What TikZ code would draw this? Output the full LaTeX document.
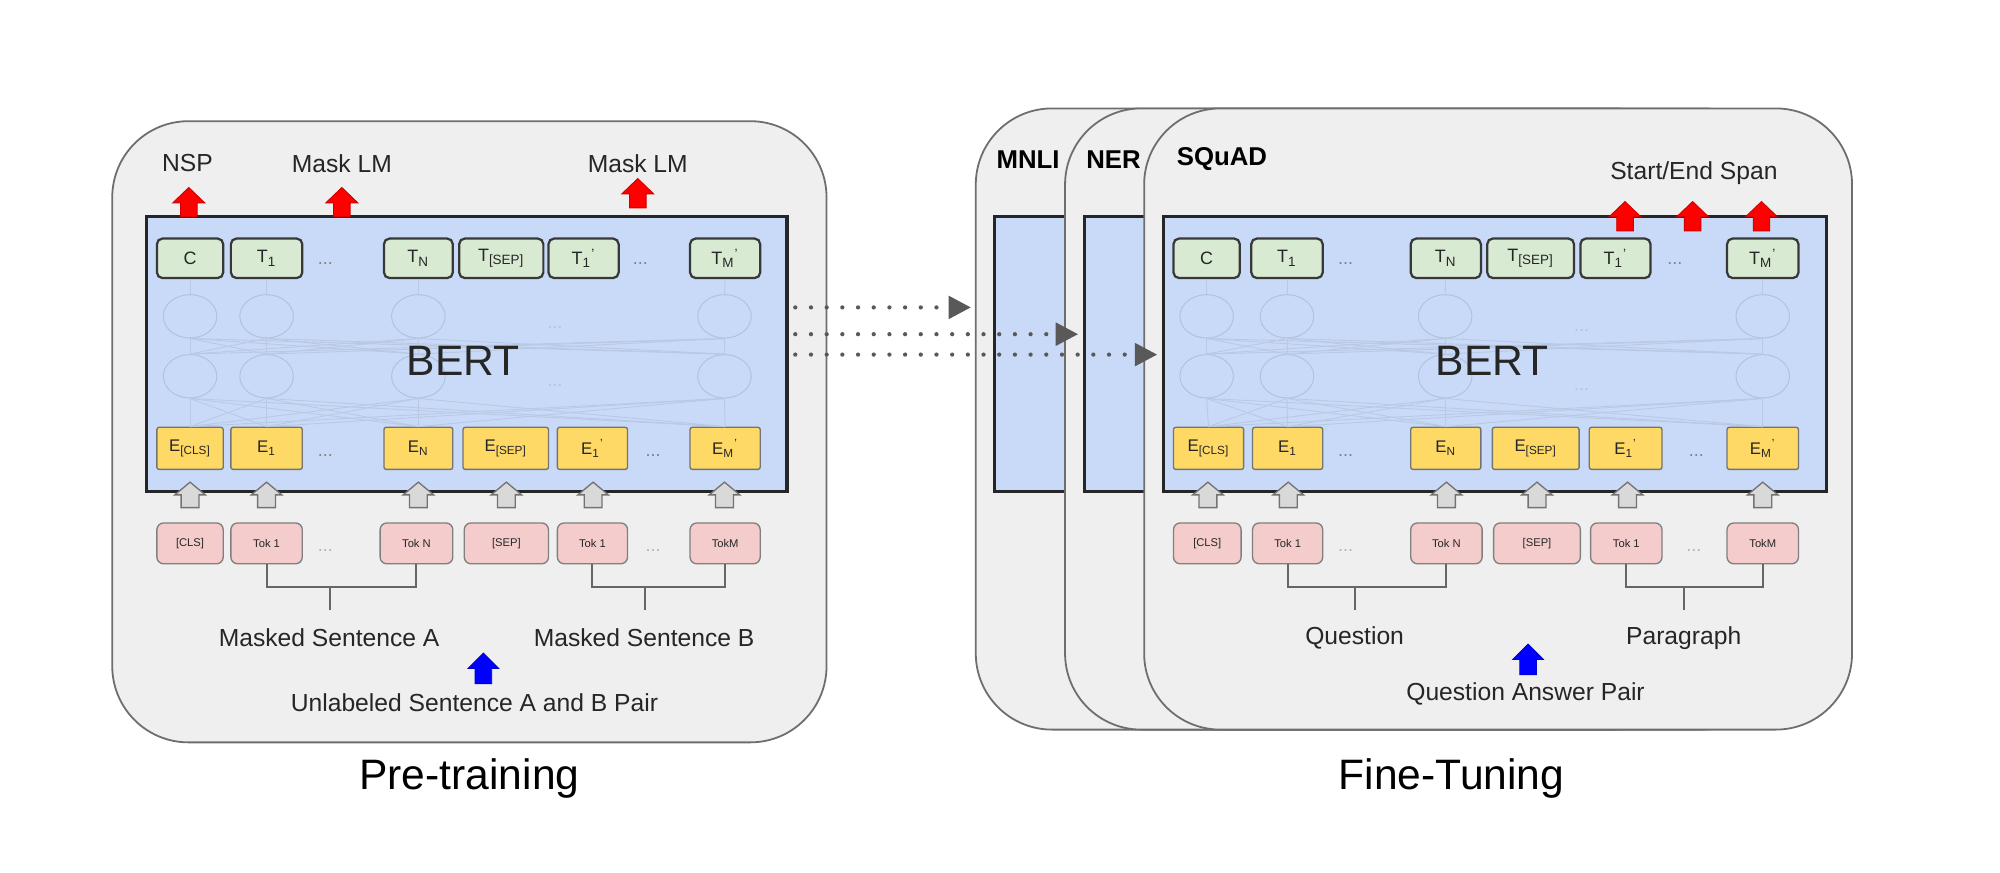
\documentclass[tikz,border=0pt]{standalone}
\usepackage{fontspec}
\setmainfont{Liberation Sans}
\usetikzlibrary{shapes.geometric,arrows.meta}
\definecolor{panelfill}{HTML}{EFEFEF}
\definecolor{panelline}{HTML}{6E6E6E}
\definecolor{bertblue}{HTML}{C9DAF8}
\definecolor{gfill}{HTML}{D9EAD3}
\definecolor{yfill}{HTML}{FFD966}
\definecolor{pfill}{HTML}{F4CCCC}
\definecolor{faint}{HTML}{B2C2DC}
\definecolor{fainter}{HTML}{B9C9E4}
\definecolor{txt}{HTML}{262626}
\definecolor{garr}{HTML}{D9D9D9}
\newcommand\tsb[3]{#1\textsubscript{#2}\textsuperscript{#3}}
\tikzset{
  panel/.style={draw=panelline, fill=panelfill, line width=0.8pt, rounded corners=34pt},
  bertbox/.style={draw=black!85, fill=bertblue, line width=1.4pt},
  gbox/.style={draw=black!78, fill=gfill, line width=1pt, rounded corners=2.5pt, minimum height=0.62cm, inner sep=0pt, font=\fontsize{8}{9}\selectfont, text=txt},
  ybox/.style={draw=black!55, fill=yfill, line width=0.6pt, rounded corners=1pt, minimum height=0.66cm, inner sep=0pt, font=\fontsize{7.5}{9}\selectfont, text=txt},
  pbox/.style={draw=black!50, fill=pfill, line width=0.6pt, rounded corners=3pt, minimum height=0.64cm, inner sep=0pt, font=\fontsize{5}{6}\selectfont, text=txt},
  hid/.style={draw=faint, ellipse, minimum width=0.84cm, minimum height=0.68cm, inner sep=0pt, line width=0.45pt},
  faintline/.style={draw=fainter, line width=0.4pt},
  fdots/.style={font=\fontsize{8}{9}\selectfont, text=faint, inner sep=0pt},
  lbl/.style={font=\fontsize{11}{13}\selectfont, text=txt, inner sep=1pt},
  ttl/.style={font=\fontsize{19}{22}\selectfont, text=black, inner sep=1pt},
  bert/.style={font=\fontsize{19}{22}\selectfont, text=black!85, inner sep=1pt},
  task/.style={font=\bfseries\fontsize{11.5}{14}\selectfont, text=black, inner sep=1pt},
  dotsym/.style={font=\fontsize{8}{9}\selectfont, text=black!50, inner sep=0pt},
  bracket/.style={draw=black!60, line width=0.9pt},
  dotarrow/.style={draw=black!65, line width=1.9pt, dash pattern=on 0pt off 7pt, line cap=round, shorten <=3pt, shorten >=2pt, -{Triangle[length=10pt,width=10pt]}},
  pics/redarr/.style={code={\path[fill=red, draw=red!80!black, line width=0.4pt] (-6.5,0) -- (-6.5,-11) -- (-12.5,-11) -- (0,-23) -- (12.5,-11) -- (6.5,-11) -- (6.5,0) -- cycle;}},
  pics/bluearr/.style={code={\path[fill=blue, draw=blue!80!black, line width=0.4pt] (-6.5,0) -- (-6.5,-12) -- (-12,-12) -- (0,-24) -- (12,-12) -- (6.5,-12) -- (6.5,0) -- cycle;}},
  pics/greyarr/.style={code={\path[fill=garr, draw=black!55, line width=0.6pt] (-7,0) -- (-7,-10) -- (-12,-10) -- (0,-20) -- (12,-10) -- (7,-10) -- (7,0) -- cycle;}},
}
\begin{document}
\begin{tikzpicture}[x=0.02cm,y=-0.02cm]
\useasboundingbox[fill=white] (0,0) rectangle (1568,684);

% ================= Pre-training =================
\node[panel, minimum width=560*0.02cm, minimum height=487*0.02cm] (L-panel) at (368,338.5) {};
\node[bertbox, minimum width=502*0.02cm, minimum height=215*0.02cm] (L-bert) at (366,277.5) {};

\foreach \n/\x/\w/\t in {C/149/52/{C}, T1/209/56/{T\textsubscript{1}}, TN/328/54/{T\textsubscript{N}}, TS/393/66/{T\textsubscript{[SEP]}}, T1p/457.5/55/{\tsb{T}{1}{'}}, TMp/568.5/55/{\tsb{T}{M}{'}}}
  \node[gbox, minimum width=\w*0.02cm] (L-g\n) at (\x,202.5) {\t};
\foreach \n/\x/\w/\t in {C/149/52/{E\textsubscript{[CLS]}}, E1/209/56/{E\textsubscript{1}}, EN/328/54/{E\textsubscript{N}}, ES/396.5/67/{E\textsubscript{[SEP]}}, E1p/464.5/55/{\tsb{E}{1}{'}}, EMp/568.5/55/{\tsb{E}{M}{'}}}
  \node[ybox, minimum width=\w*0.02cm] (L-y\n) at (\x,351.5) {\t};
\foreach \n/\x/\w/\t in {C/149/52/{[CLS]}, K1/209/56/{Tok 1}, KN/326.5/57/{Tok N}, S/397/66/{[SEP]}, K1p/464.5/55/{Tok 1}, KM/568.5/55/{TokM}}
  \node[pbox, minimum width=\w*0.02cm] (L-p\n) at (\x,426) {\t};

% hidden layers
\foreach \c/\x/\g/\y in {a/149/C/C, b/209/T1/E1, c/328/TN/EN, d/568/TMp/EMp} {
  \node[hid] (L-ha\c) at (\x,248) {};
  \node[hid] (L-hb\c) at (\x,295) {};
  \draw[faintline] (L-g\g.south) -- (L-ha\c.north);
}
\foreach \a in {a,b,c,d} \foreach \b/\y in {a/C,b/E1,c/EN,d/EMp} {
  \draw[faintline] (L-ha\a.south) -- (L-hb\b.north);
  \draw[faintline] (L-hb\a.south) -- (L-y\y.north);
}
\node[fdots] (L-fd1) at (435,257) {...};
\node[fdots] (L-fd2) at (435,302) {...};
\node[bert] (L-berttxt) at (363,283) {BERT};

\node[dotsym] (L-dg1) at (255,207) {...};
\node[dotsym] (L-dg2) at (502,207) {...};
\node[dotsym] (L-dy1) at (255,357) {...};
\node[dotsym] (L-dy2) at (512,357) {...};
\node[dotsym, text=black!30] (L-dp1) at (255,432) {...};
\node[dotsym, text=black!30] (L-dp2) at (512,432) {...};

\foreach \x in {149,209,328,397,465,568} \pic at (\x,398) {greyarr};

% outputs
\pic at (148,170) {redarr};
\pic at (268,170) {redarr};
\pic at (500,163) {redarr};
\node[lbl] (L-nsp) at (147,128) {NSP};
\node[lbl] (L-mlm1) at (268,128) {Mask LM};
\node[lbl] (L-mlm2) at (500,128) {Mask LM};

% brackets
\coordinate (L-brA) at (0,460);
\draw[bracket] (L-pK1.south) |- (L-brA -| L-pKN.south) -- (L-pKN.south);
\draw[bracket] (L-pK1p.south) |- (L-brA -| L-pKM.south) -- (L-pKM.south);
\node[lbl] (L-sa) at (258,500) {Masked Sentence A};
\node[lbl] (L-sb) at (505,500) {Masked Sentence B};
\coordinate (L-stA) at (259,478);
\coordinate (L-stB) at (506,478);
\draw[bracket] (L-stA) -- (L-stA |- L-brA);
\draw[bracket] (L-stB) -- (L-stB |- L-brA);
\pic at (379,536) {bluearr};
\node[lbl] (L-pair) at (372,551) {Unlabeled Sentence A and B Pair};
\node[ttl] (L-title) at (368,610) {Pre-training};

% ================= Fine-Tuning =================
\node[panel, minimum width=560*0.02cm, minimum height=487*0.02cm] (M-panel) at (1045,328.5) {};
\node[bertbox, minimum width=520*0.02cm, minimum height=215*0.02cm] (M-bert) at (1040,277.5) {};
\node[task] (M-lbl) at (806,125) {MNLI};
\node[panel, minimum width=560*0.02cm, minimum height=487*0.02cm] (N-panel) at (1115,328.5) {};
\node[bertbox, minimum width=520*0.02cm, minimum height=215*0.02cm] (N-bert) at (1110,277.5) {};
\node[task] (N-lbl) at (873,125) {NER};
\node[panel, minimum width=555*0.02cm, minimum height=487*0.02cm] (R-panel) at (1174.5,328.5) {};
\node[bertbox, minimum width=520*0.02cm, minimum height=215*0.02cm] (R-bert) at (1172,277.5) {};
\node[task] (R-lbl) at (958,125) {SQuAD};

\foreach \n/\x/\w/\t in {C/946/52/{C}, T1/1009/56/{T\textsubscript{1}}, TN/1133.5/55/{T\textsubscript{N}}, TS/1200/68/{T\textsubscript{[SEP]}}, T1p/1266.5/55/{\tsb{T}{1}{'}}, TMp/1382/56/{\tsb{T}{M}{'}}}
  \node[gbox, minimum width=\w*0.02cm] (R-g\n) at (\x,202.5) {\t};
\foreach \n/\x/\w/\t in {C/947.5/55/{E\textsubscript{[CLS]}}, E1/1009.5/55/{E\textsubscript{1}}, EN/1133.5/55/{E\textsubscript{N}}, ES/1204/68/{E\textsubscript{[SEP]}}, E1p/1274.5/57/{\tsb{E}{1}{'}}, EMp/1382/56/{\tsb{E}{M}{'}}}
  \node[ybox, minimum width=\w*0.02cm] (R-y\n) at (\x,351.5) {\t};
\foreach \n/\x/\w/\t in {C/946.5/53/{[CLS]}, K1/1009.5/55/{Tok 1}, KN/1134/56/{Tok N}, S/1205/68/{[SEP]}, K1p/1275/56/{Tok 1}, KM/1382/56/{TokM}}
  \node[pbox, minimum width=\w*0.02cm] (R-p\n) at (\x,426) {\t};

\foreach \c/\x/\g in {a/946/C, b/1009/T1, c/1133/TN, d/1382/TMp} {
  \node[hid] (R-ha\c) at (\x,248) {};
  \node[hid] (R-hb\c) at (\x,295) {};
  \draw[faintline] (R-g\g.south) -- (R-ha\c.north);
}
\foreach \a in {a,b,c,d} \foreach \b/\y in {a/C,b/E1,c/EN,d/EMp} {
  \draw[faintline] (R-ha\a.south) -- (R-hb\b.north);
  \draw[faintline] (R-hb\a.south) -- (R-y\y.north);
}
\node[fdots] (R-fd1) at (1240,259) {...};
\node[fdots] (R-fd2) at (1240,305) {...};
\node[bert] (R-berttxt) at (1170,283) {BERT};

\node[dotsym] (R-dg1) at (1055,207) {...};
\node[dotsym] (R-dg2) at (1313,207) {...};
\node[dotsym] (R-dy1) at (1055,357) {...};
\node[dotsym] (R-dy2) at (1330,357) {...};
\node[dotsym, text=black!30] (R-dp1) at (1055,432) {...};
\node[dotsym, text=black!30] (R-dp2) at (1328,432) {...};

\foreach \x in {947,1010,1134,1205,1276,1382} \pic at (\x,398) {greyarr};

\pic at (1274,181) {redarr};
\pic at (1327,181) {redarr};
\pic at (1381,181) {redarr};
\node[lbl] (R-span) at (1328,136) {Start/End Span};

\coordinate (R-brA) at (0,460);
\draw[bracket] (R-pK1.south) |- (R-brA -| R-pKN.south) -- (R-pKN.south);
\draw[bracket] (R-pK1p.south) |- (R-brA -| R-pKM.south) -- (R-pKM.south);
\node[lbl] (R-q) at (1062,500) {Question};
\node[lbl] (R-par) at (1320,500) {Paragraph};
\coordinate (R-stA) at (1062,478);
\coordinate (R-stB) at (1320,478);
\draw[bracket] (R-stA) -- (R-stA |- R-brA);
\draw[bracket] (R-stB) -- (R-stB |- R-brA);
\pic at (1198,529) {bluearr};
\node[lbl] (R-pair) at (1196,544) {Question Answer Pair};
\node[ttl] (R-title) at (1138,610) {Fine-Tuning};

% dotted transfer arrows
\coordinate (d1) at (0,241);
\coordinate (d2) at (0,262);
\coordinate (d3) at (0,278);
\draw[dotarrow, shorten >=10pt] (L-bert.east |- d1) -- (M-bert.west |- d1);
\draw[dotarrow] (L-bert.east |- d2) -- (N-bert.west |- d2);
\draw[dotarrow] (L-bert.east |- d3) -- (R-bert.west |- d3);
\end{tikzpicture}
\end{document}
